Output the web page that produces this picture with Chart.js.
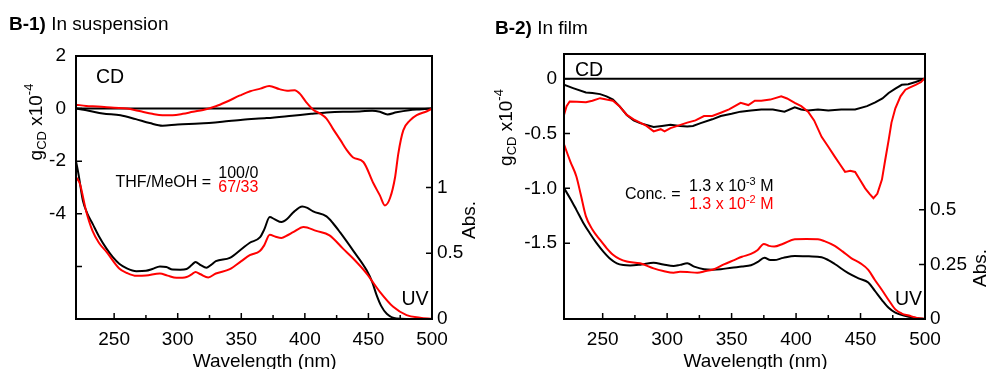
<!DOCTYPE html>
<html>
<head>
<meta charset="utf-8">
<script src="https://cdn.jsdelivr.net/npm/chart.js@4.4.0/dist/chart.umd.min.js"></script>
<style>
  body { margin: 0; background: #fff; }
  #wrap { position: relative; width: 987px; height: 369px; overflow: hidden; }
  canvas { position: absolute; top: 0; }
</style>
</head>
<body>
<div id="wrap">
  <canvas id="graficoSuspensao" width="490" height="369" style="left:0"></canvas>
  <canvas id="graficoFilme" width="497" height="369" style="left:490px"></canvas>
</div>
<script>
// ---- B-1) suspensao: CD (g x10^-4) ----
var cd1PretoWl = [220, 230, 241, 255, 267, 278, 288, 300, 317, 335, 351, 370, 390, 405, 417, 430, 443, 453, 459, 465, 472, 482, 490, 500];
var cd1Preto = [0, -0.08, -0.19, -0.25, -0.4, -0.55, -0.65, -0.6, -0.57, -0.5, -0.42, -0.36, -0.27, -0.2, -0.15, -0.12, -0.11, -0.08, -0.12, -0.22, -0.14, -0.06, -0.03, 0];
var cd1VermWl = [220, 228, 237, 250, 260, 266, 273, 280, 288, 296, 304, 312, 320, 330, 338, 349, 357, 365, 372, 380, 386, 392, 396, 401, 406.5, 412, 417, 422, 428, 433, 438, 446, 454, 459, 463, 467, 471, 473.5, 477.4, 482.7, 488, 496, 500];
var cd1Verm = [0.15, 0.1, 0.08, 0.03, 0, -0.05, -0.13, -0.2, -0.25, -0.25, -0.2, -0.12, -0.05, 0.09, 0.25, 0.5, 0.66, 0.76, 0.86, 0.74, 0.68, 0.7, 0.57, 0.25, -0.04, -0.19, -0.38, -0.76, -1.2, -1.58, -1.86, -2.03, -2.85, -3.3, -3.68, -3.4, -2.6, -1.71, -0.83, -0.45, -0.25, -0.1, 0];

// ---- B-1) suspensao: UV (Abs.) ----
var uv1PretoWl = [220, 222, 225.4, 229, 233, 238, 244, 249, 254, 260, 267.5, 275, 280, 286, 291, 296, 302, 307, 311, 314, 318, 322.6, 326, 330, 341, 350, 356.7, 364.6, 368, 372.4, 376, 381.6, 386, 390.8, 398, 402, 406.5, 417, 422, 427.6, 438, 448.6, 453, 456.5, 460, 464.4, 472, 480, 500];
var uv1Preto = [1.2, 1.1, 0.9, 0.8, 0.725, 0.63, 0.535, 0.47, 0.42, 0.385, 0.364, 0.367, 0.38, 0.4, 0.395, 0.376, 0.375, 0.38, 0.41, 0.434, 0.41, 0.39, 0.41, 0.44, 0.465, 0.53, 0.58, 0.62, 0.68, 0.775, 0.76, 0.737, 0.76, 0.81, 0.856, 0.845, 0.818, 0.78, 0.73, 0.66, 0.52, 0.37, 0.28, 0.18, 0.1, 0.04, 0.003, 0, 0];
var uv1VermWl = [220, 223, 228, 233, 238, 244, 254, 260, 267.5, 275, 286, 292, 299, 307, 311, 314, 318, 324, 330, 341, 350, 356.7, 364.6, 368, 372.4, 377, 381.6, 386, 390.8, 399, 409, 419.4, 430, 438, 448.6, 459, 469.5, 480, 490.6, 500];
var uv1Verm = [1.08, 1.03, 0.82, 0.67, 0.58, 0.51, 0.384, 0.35, 0.328, 0.33, 0.346, 0.33, 0.313, 0.32, 0.34, 0.358, 0.34, 0.316, 0.346, 0.379, 0.44, 0.485, 0.517, 0.56, 0.64, 0.625, 0.616, 0.635, 0.66, 0.7, 0.67, 0.636, 0.535, 0.46, 0.346, 0.207, 0.093, 0.03, 0.01, 0];

// ---- B-2) filme: CD ----
var cd2PretoWl = [220, 227, 237, 242, 248, 253, 258, 263, 268.7, 274, 279, 289.5, 296, 302.6, 310, 315.6, 320, 326, 335, 341.6, 350, 357, 365, 373, 382, 391, 399, 404, 409.3, 417, 425, 435, 445.8, 455, 461.4, 467, 471.8, 477, 482, 487, 492.7, 500];
var cd2Preto = [-0.055, -0.085, -0.125, -0.13, -0.14, -0.16, -0.19, -0.25, -0.33, -0.38, -0.405, -0.44, -0.43, -0.42, -0.43, -0.435, -0.43, -0.405, -0.37, -0.34, -0.32, -0.3, -0.29, -0.28, -0.28, -0.3, -0.26, -0.28, -0.29, -0.28, -0.29, -0.28, -0.28, -0.25, -0.216, -0.18, -0.13, -0.09, -0.055, -0.05, -0.03, 0];
var cd2VermWl = [220, 222, 224.4, 230, 237, 242, 248, 253, 258, 263, 268.7, 274, 279, 284, 289.5, 295, 298, 302.6, 308, 315.6, 322, 328.6, 335, 341.6, 348, 357, 363, 368, 373, 380, 388.5, 393, 399, 404, 409.3, 414, 419.8, 425, 430, 434, 438, 442, 445.8, 450, 453.6, 457, 460, 463, 466.6, 469, 471.8, 474, 477, 481, 484.8, 488, 492.7, 497, 500];
var cd2Verm = [-0.33, -0.25, -0.207, -0.21, -0.215, -0.2, -0.177, -0.19, -0.2, -0.25, -0.33, -0.37, -0.4, -0.43, -0.48, -0.46, -0.48, -0.45, -0.43, -0.4, -0.38, -0.34, -0.34, -0.31, -0.28, -0.22, -0.24, -0.2, -0.2, -0.19, -0.16, -0.18, -0.22, -0.25, -0.3, -0.38, -0.53, -0.62, -0.71, -0.78, -0.85, -0.84, -0.85, -0.93, -1.0, -1.05, -1.09, -1.05, -0.92, -0.75, -0.56, -0.4, -0.27, -0.16, -0.1, -0.08, -0.055, -0.03, 0.01];

// ---- B-2) filme: UV ----
var uv2PretoWl = [220, 225, 229.6, 235, 240, 245, 250.5, 256, 261, 266, 271.3, 280, 289.5, 297, 305, 310, 315.6, 321, 328.6, 335, 341.6, 350, 358, 365, 370, 375.5, 380, 383, 390, 399, 410, 419.8, 425, 430, 440.5, 449, 456, 461, 466.6, 472, 477, 487.4, 500];
var uv2Preto = [0.6, 0.55, 0.5, 0.44, 0.393, 0.35, 0.309, 0.275, 0.255, 0.247, 0.245, 0.25, 0.258, 0.25, 0.243, 0.248, 0.255, 0.24, 0.228, 0.226, 0.228, 0.235, 0.24, 0.246, 0.26, 0.281, 0.27, 0.27, 0.28, 0.289, 0.287, 0.283, 0.27, 0.252, 0.21, 0.185, 0.167, 0.13, 0.087, 0.05, 0.029, 0.01, 0];
var uv2VermWl = [220, 225, 229.6, 233, 237, 242, 248, 253, 258, 263, 268.7, 279, 289.5, 297, 305, 310, 315.6, 323.4, 330, 336.4, 344, 352, 358, 365, 370, 375, 379, 383, 390, 399, 408, 417, 422, 430, 436, 443, 450, 456, 461, 466.6, 472, 477, 482, 487.4, 493, 500];
var uv2Verm = [0.8, 0.72, 0.653, 0.57, 0.47, 0.41, 0.362, 0.325, 0.294, 0.275, 0.263, 0.255, 0.232, 0.22, 0.212, 0.216, 0.215, 0.212, 0.22, 0.228, 0.25, 0.27, 0.285, 0.298, 0.315, 0.344, 0.335, 0.332, 0.345, 0.365, 0.366, 0.365, 0.357, 0.335, 0.31, 0.278, 0.255, 0.225, 0.18, 0.133, 0.085, 0.044, 0.025, 0.016, 0.006, 0];

// eixos
var xMin = 220, xMax = 500;
var xTicks = [250, 300, 350, 400, 450, 500];
var xTicksMenores = [275, 325, 375, 425, 475];
var linhaZeroWl = [220, 500];
var linhaZero = [0, 0];

var y1Ticks = [2, 0, -2, -4, -6];
var y1Rotulos = ['2', '0', '-2', '-4', ''];
var abs1Ticks = [0, 0.5, 1];
var abs1Rotulos = ['0', '0.5', '1'];
var y2Ticks = [0, -0.5, -1.0, -1.5];
var y2Rotulos = ['0', '-0.5', '-1.0', '-1.5'];
var abs2Ticks = [0, 0.25, 0.5];
var abs2Rotulos = ['0', '0.25', '0.5'];

var FONTE = "'Liberation Sans', Arial, sans-serif";
var VERMELHO = '#ff0000';

function serie(wl, vals, cor, eixo, suave) {
  return {
    data: wl.map(function (w, i) { return { x: w, y: vals[i] }; }),
    borderColor: cor,
    borderWidth: 2,
    pointRadius: 0,
    fill: false,
    yAxisID: eixo,
    cubicInterpolationMode: suave ? 'monotone' : 'default',
    tension: 0
  };
}

// texto com partes (sub/sobrescrito)
function desenhaTexto(ctx, x, y, partes, rot, centro) {
  ctx.save();
  ctx.translate(x, y);
  if (rot) ctx.rotate(rot);
  ctx.textBaseline = 'alphabetic';
  ctx.textAlign = 'left';
  var total = 0;
  partes.forEach(function (p) {
    ctx.font = (p.bold ? 'bold ' : '') + p.size + 'px ' + FONTE;
    total += ctx.measureText(p.t).width;
  });
  var cx = centro ? -total / 2 : 0;
  partes.forEach(function (p) {
    ctx.font = (p.bold ? 'bold ' : '') + p.size + 'px ' + FONTE;
    ctx.fillStyle = p.cor || '#000';
    ctx.fillText(p.t, cx, p.dy || 0);
    cx += ctx.measureText(p.t).width;
  });
  ctx.restore();
}

// moldura, marcas internas e textos
var decorPlugin = {
  id: 'decor',
  afterDraw: function (chart) {
    var ctx = chart.ctx;
    var a = chart.chartArea;
    var cfg = chart.options.plugins.decor;
    var sx = chart.scales.x, yl = chart.scales.y, yr = chart.scales.abs;

    ctx.save();
    ctx.strokeStyle = '#000';
    ctx.lineWidth = 2;
    ctx.strokeRect(a.left, a.top, a.right - a.left, a.bottom - a.top);

    ctx.lineWidth = 1.5;
    ctx.beginPath();
    xTicks.forEach(function (v) {
      var px = sx.getPixelForValue(v);
      ctx.moveTo(px, a.bottom); ctx.lineTo(px, a.bottom - 6);
    });
    xTicksMenores.forEach(function (v) {
      var px = sx.getPixelForValue(v);
      ctx.moveTo(px, a.bottom); ctx.lineTo(px, a.bottom - 4);
    });
    cfg.yTicks.forEach(function (v) {
      var py = yl.getPixelForValue(v);
      ctx.moveTo(a.left, py); ctx.lineTo(a.left + 6, py);
    });
    cfg.absTicks.forEach(function (v) {
      var py = yr.getPixelForValue(v);
      ctx.moveTo(a.right, py); ctx.lineTo(a.right - 6, py);
    });
    ctx.stroke();
    ctx.restore();

    cfg.textos.forEach(function (t) {
      desenhaTexto(ctx, t.x, t.y, t.partes, t.rot, t.centro);
    });
  }
};

function criaGrafico(id, cfg) {
  var ctx = document.getElementById(id).getContext('2d');
  new Chart(ctx, {
    type: 'line',
    data: {
      datasets: cfg.datasets
    },
    options: {
      responsive: false,
      animation: false,
      layout: { padding: { top: cfg.top, left: 0, right: 0, bottom: 0 } },
      scales: {
        x: {
          type: 'linear', min: xMin, max: xMax, position: 'bottom',
          grid: { display: false, drawTicks: false },
          border: { display: false },
          afterBuildTicks: function (s) { s.ticks = xTicks.map(function (v) { return { value: v }; }); },
          afterFit: function (s) { s.height = 50; },
          ticks: { color: '#000', font: { size: 19, family: FONTE }, padding: 9, maxRotation: 0, autoSkip: false }
        },
        y: {
          type: 'linear', position: 'left', min: cfg.yMin, max: cfg.yMax,
          grid: { display: false, drawTicks: false },
          border: { display: false },
          afterBuildTicks: function (s) { s.ticks = cfg.yTicks.map(function (v) { return { value: v }; }); },
          afterFit: function (s) { s.width = cfg.yLargura; },
          ticks: {
            color: '#000', font: { size: 19, family: FONTE }, padding: cfg.yPad, autoSkip: false,
            callback: function (v) { var i = cfg.yTicks.indexOf(v); return i >= 0 ? cfg.yRotulos[i] : ''; }
          }
        },
        abs: {
          type: 'linear', position: 'right', min: 0, max: cfg.absMax,
          grid: { display: false, drawTicks: false },
          border: { display: false },
          afterBuildTicks: function (s) { s.ticks = cfg.absTicks.map(function (v) { return { value: v }; }); },
          afterFit: function (s) { s.width = cfg.absLargura; },
          ticks: {
            color: '#000', font: { size: 19, family: FONTE }, padding: 5, autoSkip: false,
            callback: function (v) { var i = cfg.absTicks.indexOf(v); return i >= 0 ? cfg.absRotulos[i] : ''; }
          }
        }
      },
      plugins: {
        legend: { display: false },
        tooltip: { enabled: false },
        decor: { yTicks: cfg.yTicks, absTicks: cfg.absTicks, textos: cfg.textos }
      }
    },
    plugins: [decorPlugin]
  });
}

function tituloY(x, y) {
  return {
    x: x, y: y, rot: -Math.PI / 2, centro: true,
    partes: [
      { t: 'g', size: 19 },
      { t: 'CD', size: 13, dy: 4 },
      { t: ' x10', size: 19 },
      { t: '-4', size: 13, dy: -9 }
    ]
  };
}

// B-1) In suspension
criaGrafico('graficoSuspensao', {
  top: 56, yMin: -8, yMax: 2, absMax: 2,
  yLargura: 76, absLargura: 58, yPad: 10,
  yTicks: y1Ticks, yRotulos: y1Rotulos, absTicks: abs1Ticks, absRotulos: abs1Rotulos,
  datasets: [
    serie(cd1VermWl, cd1Verm, VERMELHO, 'y', true),
    serie(cd1PretoWl, cd1Preto, '#000', 'y', true),
    serie(uv1VermWl, uv1Verm, VERMELHO, 'abs', true),
    serie(uv1PretoWl, uv1Preto, '#000', 'abs', true),
    serie(linhaZeroWl, linhaZero, '#000', 'y', false)
  ],
  textos: [
    { x: 9, y: 29.5, partes: [{ t: 'B-1)', size: 19, bold: true }, { t: ' In suspension', size: 19 }] },
    { x: 96, y: 83, partes: [{ t: 'CD', size: 19.5 }] },
    { x: 401.5, y: 305, partes: [{ t: 'UV', size: 19.5 }] },
    { x: 115.5, y: 186.7, partes: [{ t: 'THF/MeOH =', size: 16 }] },
    { x: 218.3, y: 177.7, partes: [{ t: '100/0', size: 16 }] },
    { x: 218.3, y: 191.7, partes: [{ t: '67/33', size: 16, cor: VERMELHO }] },
    tituloY(41.5, 122),
    { x: 475, y: 220, rot: -Math.PI / 2, centro: true, partes: [{ t: 'Abs.', size: 19 }] },
    { x: 264.7, y: 367, centro: true, partes: [{ t: 'Wavelength (nm)', size: 19 }] }
  ]
});

// B-2) In film
criaGrafico('graficoFilme', {
  top: 54, yMin: -2.192, yMax: 0.226, absMax: 1.214,
  yLargura: 74, absLargura: 62, yPad: 7,
  yTicks: y2Ticks, yRotulos: y2Rotulos, absTicks: abs2Ticks, absRotulos: abs2Rotulos,
  datasets: [
    serie(cd2VermWl, cd2Verm, VERMELHO, 'y', false),
    serie(cd2PretoWl, cd2Preto, '#000', 'y', false),
    serie(uv2VermWl, uv2Verm, VERMELHO, 'abs', true),
    serie(uv2PretoWl, uv2Preto, '#000', 'abs', true),
    serie(linhaZeroWl, linhaZero, '#000', 'y', false)
  ],
  textos: [
    { x: 5, y: 34.3, partes: [{ t: 'B-2)', size: 19, bold: true }, { t: ' In film', size: 19 }] },
    { x: 85, y: 76, partes: [{ t: 'CD', size: 19.5 }] },
    { x: 405, y: 305, partes: [{ t: 'UV', size: 19.5 }] },
    { x: 135, y: 199.3, partes: [{ t: 'Conc. =', size: 16 }] },
    { x: 199, y: 190.7, partes: [{ t: '1.3 x 10', size: 16 }, { t: '-3', size: 11, dy: -6 }, { t: ' M', size: 16 }] },
    { x: 199, y: 209.3, partes: [{ t: '1.3 x 10', size: 16, cor: VERMELHO }, { t: '-2', size: 11, dy: -6, cor: VERMELHO }, { t: ' M', size: 16, cor: VERMELHO }] },
    tituloY(22, 127.5),
    { x: 496, y: 268, rot: -Math.PI / 2, centro: true, partes: [{ t: 'Abs.', size: 19 }] },
    { x: 265.5, y: 367, centro: true, partes: [{ t: 'Wavelength (nm)', size: 19 }] }
  ]
});
</script>
</body>
</html>
